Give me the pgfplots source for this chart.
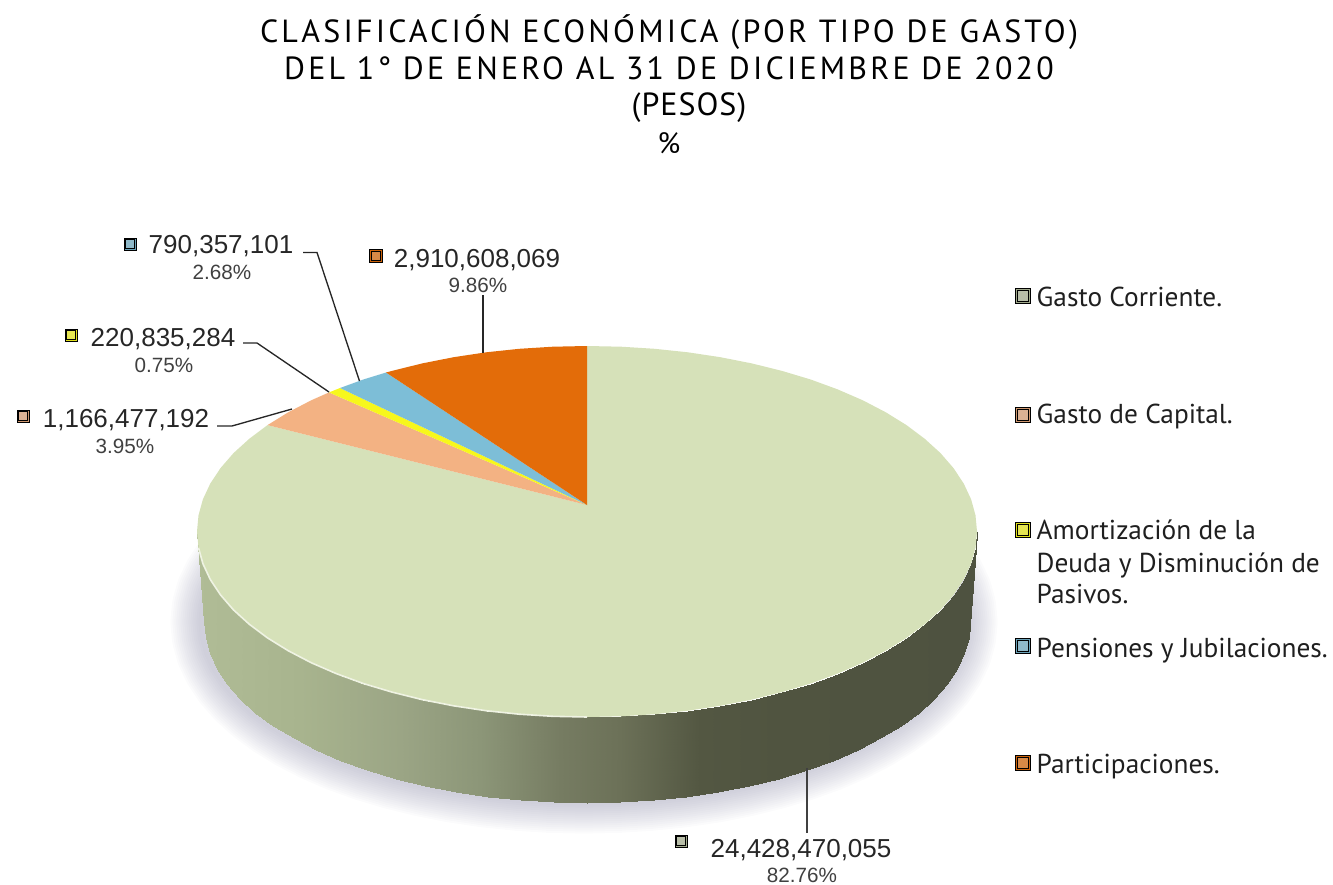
\documentclass[border=0pt]{standalone}
\usepackage{pgfplots}
\pgfplotsset{compat=1.18}
\usepackage{pgfplotstable}
\usepackage{fontspec}
\setmainfont{Liberation Sans}
\newfontfamily\titlefont[LetterSpace=10]{PT Sans}
\newfontfamily\titlefontb[LetterSpace=3]{PT Sans}
\newfontfamily\legfont{PT Sans}
\definecolor{cgreen}{RGB}{214,225,185}
\definecolor{cpeach}{RGB}{243,178,131}
\definecolor{cyel}{RGB}{247,247,28}
\definecolor{cblue}{RGB}{125,190,215}
\definecolor{corange}{RGB}{227,108,9}
\definecolor{cshadow}{RGB}{130,130,160}
\pgfplotstableread{
x y
227.1 560.1
217.1 575.2
209.8 590.6
205.5 606.2
204 622
205.5 637.8
209.8 653.4
217.1 668.8
227.1 683.9
239.9 698.5
255.3 712.5
273.3 725.8
293.6 738.3
316.2 750
340.8 760.7
367.3 770.3
395.5 778.7
425.1 786
456 792.1
487.9 796.8
520.5 800.2
553.6 802.3
587 803
620.4 802.3
653.5 800.2
686.1 796.8
718 792.1
748.9 786
778.5 778.7
806.7 770.3
833.2 760.7
857.8 750
880.4 738.3
900.7 725.8
918.7 712.5
934.1 698.5
946.9 683.9
956.9 668.8
964.2 653.4
968.5 637.8
970 622
968.5 606.2
964.2 590.6
956.9 575.2
946.9 560.1
}\lowerrim
\newcommand{\mk}[4]{%
 \addplot[only marks,mark=square*,mark size=#4pt,mark options={draw=none,fill=#1},forget plot] coordinates {(#2,#3)};
 \addplot[only marks,mark=square*,mark size=0.72*#4pt,mark options={draw=none,fill=#1!75!white},forget plot] coordinates {(#2,#3)};
}
\newcommand{\vl}[3]{\node[text=black!85,anchor=base] at (axis cs:#1,#2) {\fontsize{19.5}{19.5}\selectfont #3};}
\newcommand{\pl}[3]{\node[text=black!75,anchor=base] at (axis cs:#1,#2) {\fontsize{15.5}{15.5}\selectfont #3};}
\newcommand{\lgd}[2]{\node[anchor=base west,text=black!88] at (axis cs:1032,#1) {\legfont\fontsize{20.5}{20.5}\selectfont #2};}
\begin{document}
\begin{tikzpicture}
\begin{axis}[
 scale only axis, width=999.75pt, height=663pt,
 xmin=0,xmax=1333,ymin=0,ymax=884,y dir=reverse,hide axis,
 colormap={side}{rgb255(197)=(176,188,150) rgb255(300)=(168,180,142) rgb255(400)=(155,165,133) rgb255(480)=(140,150,120) rgb255(560)=(118,124,98) rgb255(620)=(108,113,88) rgb255(700)=(83,87,66) rgb255(780)=(80,84,64) rgb255(977)=(78,82,64)},
 point meta min=197, point meta max=977,
 every node/.append style={inner sep=0pt,outer sep=0pt},
]
\addplot[draw=none,forget plot] coordinates {(0,0)(1333,884)};
% shadow
\pgfplotsinvokeforeach{46,43,40,37,34,31,28,25,22,19,16,13,10,7,4}{
 \addplot[draw=cshadow,opacity=0.03,line width=#1pt,line cap=round,line join=round,mark=none,forget plot] table[x expr=\thisrow{x}-3,y=y] {\lowerrim};
}
% side wall
\addplot[patch,patch type=rectangle,shader=interp,point meta=x,forget plot,table/row sep=\\,
 patch table={
0 1 38 37\\ 1 2 39 38\\ 2 3 40 39\\ 3 4 41 40\\ 4 5 42 41\\ 5 6 43 42\\
6 7 44 43\\ 7 8 45 44\\ 8 9 46 45\\ 9 10 47 46\\ 10 11 48 47\\ 11 12 49 48\\
12 13 50 49\\ 13 14 51 50\\ 14 15 52 51\\ 15 16 53 52\\ 16 17 54 53\\ 17 18 55 54\\
18 19 56 55\\ 19 20 57 56\\ 20 21 58 57\\ 21 22 59 58\\ 22 23 60 59\\ 23 24 61 60\\
24 25 62 61\\ 25 26 63 62\\ 26 27 64 63\\ 27 28 65 64\\ 28 29 66 65\\ 29 30 67 66\\
30 31 68 67\\ 31 32 69 68\\ 32 33 70 69\\ 33 34 71 70\\ 34 35 72 71\\ 35 36 73 72\\
}] table[x=x,y=y] {
x y\\
197 531.5\\ 198.5 547.7\\ 202.9 563.7\\ 210.3 579.5\\ 220.5 594.9\\ 233.5 609.9\\ 249.3 624.25\\ 267.5 637.9\\ 288.2 650.7\\ 311.2 662.7\\ 336.3 673.6\\ 363.3 683.5\\ 392 692.1\\ 422.2 699.6\\ 453.6 705.8\\ 486.1 710.7\\ 519.3 714.2\\ 553 716.3\\ 587 717\\
621 716.3\\ 654.7 714.2\\ 687.9 710.7\\ 720.4 705.8\\ 751.8 699.6\\ 782 692.1\\ 810.7 683.5\\ 837.7 673.6\\ 862.8 662.7\\ 885.8 650.7\\ 906.5 637.9\\ 924.7 624.25\\ 940.5 609.9\\ 953.5 594.9\\ 963.7 579.5\\ 971.1 563.7\\ 975.5 547.7\\ 977 531.5\\
204 622\\ 205.5 637.8\\ 209.8 653.4\\ 217.1 668.8\\ 227.1 683.9\\ 239.9 698.5\\ 255.3 712.5\\ 273.3 725.8\\ 293.6 738.3\\ 316.2 750\\ 340.8 760.7\\ 367.3 770.3\\ 395.5 778.7\\ 425.1 786\\ 456 792.1\\ 487.9 796.8\\ 520.5 800.2\\ 553.6 802.3\\ 587 803\\
620.4 802.3\\ 653.5 800.2\\ 686.1 796.8\\ 718 792.1\\ 748.9 786\\ 778.5 778.7\\ 806.7 770.3\\ 833.2 760.7\\ 857.8 750\\ 880.4 738.3\\ 900.7 725.8\\ 918.7 712.5\\ 934.1 698.5\\ 946.9 683.9\\ 956.9 668.8\\ 964.2 653.4\\ 968.5 637.8\\ 970 622\\
};
% top: Gasto Corriente
\addplot[fill=cgreen,draw=none,mark=none,forget plot] coordinates {
(587,505)(587,346)(621,346.7)(654.7,348.8)(687.9,352.3)(720.4,357.2)(751.8,363.4)(782,370.9)(810.7,379.5)(837.7,389.4)(862.8,400.3)(885.8,412.3)(906.5,425.1)(924.7,438.75)(940.5,453.1)(953.5,468.1)(963.7,483.5)(971.1,499.3)(975.5,515.3)(977,531.5)
(975.5,547.7)(971.1,563.7)(963.7,579.5)(953.5,594.9)(940.5,609.9)(924.7,624.25)(906.5,637.9)(885.8,650.7)(862.8,662.7)(837.7,673.6)(810.7,683.5)(782,692.1)(751.8,699.6)(720.4,705.8)(687.9,710.7)(654.7,714.2)(621,716.3)(587,717)
(553,716.3)(519.3,714.2)(486.1,710.7)(453.6,705.8)(422.2,699.6)(392,692.1)(363.3,683.5)(336.3,673.6)(311.2,662.7)(288.2,650.7)(267.5,637.9)(249.3,624.25)(233.5,609.9)(220.5,594.9)(210.3,579.5)(202.9,563.7)(198.5,547.7)(197,531.5)
(198.5,515.3)(202.9,499.3)(210.3,483.5)(220.5,468.1)(233.5,453.1)(249.3,438.75)(267.5,425.1)} --cycle;
% Gasto de Capital
\addplot[fill=cpeach,draw=none,mark=none,forget plot] coordinates {(587,505)(267.5,425.1)(288.2,412.3)(311.2,400.3)(329,392.4)} --cycle;
% Amortizacion
\addplot[fill=cyel,draw=none,mark=none,forget plot] coordinates {(587,505)(329,392.4)(340,388)} --cycle;
% Pensiones
\addplot[fill=cblue,draw=none,mark=none,forget plot] coordinates {(587,505)(340,388)(363.3,379.5)(386,372.5)} --cycle;
% Participaciones
\addplot[fill=corange,draw=none,mark=none,forget plot] coordinates {(587,505)(386,372.5)(392,370.9)(422.2,363.4)(453.6,357.2)(486.1,352.3)(519.3,348.8)(553,346.7)(587,346)} --cycle;
% rim highlight
\addplot[draw=white!60!cgreen,line width=1.2pt,mark=none,forget plot] coordinates {(198.5,547.7)(202.9,563.7)(210.3,579.5)(220.5,594.9)(233.5,609.9)(249.3,624.25)(267.5,637.9)(288.2,650.7)(311.2,662.7)(336.3,673.6)(363.3,683.5)(392,692.1)(422.2,699.6)(453.6,705.8)(486.1,710.7)(519.3,714.2)(553,716.3)(587,717)};
% leaders
\addplot[black!85,line width=1pt,mark=none,forget plot] coordinates {(303,252.5)(317,252.5)(359.5,381)};
\addplot[black!85,line width=1pt,mark=none,forget plot] coordinates {(483,295)(483,353)};
\addplot[black!85,line width=1pt,mark=none,forget plot] coordinates {(243,343)(257,343)(329,392)};
\addplot[black!85,line width=1pt,mark=none,forget plot] coordinates {(217,426)(232,426)(292,409)};
\addplot[black!75,line width=1pt,mark=none,forget plot] coordinates {(807,768)(807,833)};
% markers
\mk{cgreen!75!black}{681}{841}{4.5}
\mk{cpeach!85!black}{23}{416}{4.5}
\mk{cyel!90!black}{71}{335}{4.5}
\mk{cblue!85!black}{130}{244}{4.5}
\mk{corange!90!black}{376}{256}{4.8}
\mk{cgreen!75!black}{1023}{296}{5.5}
\mk{cpeach!85!black}{1023}{415}{5.5}
\mk{cyel!90!black}{1023}{530}{5.5}
\mk{cblue!85!black}{1023}{646}{5.5}
\mk{corange!90!black}{1023}{763}{5.5}
% title
\node[text=black] at (axis cs:669,32) {\titlefont\fontsize{24}{24}\selectfont CLASIFICACIÓN ECONÓMICA (POR TIPO DE GASTO)};
\node[text=black] at (axis cs:669,68) {\titlefont\fontsize{24}{24}\selectfont DEL 1° DE ENERO AL 31 DE DICIEMBRE DE 2020};
\node[text=black] at (axis cs:689,108) {\titlefontb\fontsize{24}{24}\selectfont (PESOS)};
\node[text=black] at (axis cs:669,143) {\titlefontb\fontsize{22}{22}\selectfont \%};
% value labels
\vl{221}{253}{790,357,101}\pl{222}{279}{2.68\%}
\vl{477}{267}{2,910,608,069}\pl{478}{292}{9.86\%}
\vl{163}{346}{220,835,284}\pl{164}{372}{0.75\%}
\vl{126}{427}{1,166,477,192}\pl{125}{453}{3.95\%}
\vl{801}{857}{24,428,470,055}\pl{802}{882}{82.76\%}
% legend
\lgd{306}{Gasto Corriente.}
\lgd{423}{Gasto de Capital.}
\lgd{539}{Amortización de la}
\lgd{572}{Deuda y Disminución de}
\lgd{603}{Pasivos.}
\lgd{657}{Pensiones y Jubilaciones.}
\lgd{773}{Participaciones.}
\end{axis}
\end{tikzpicture}
\end{document}
